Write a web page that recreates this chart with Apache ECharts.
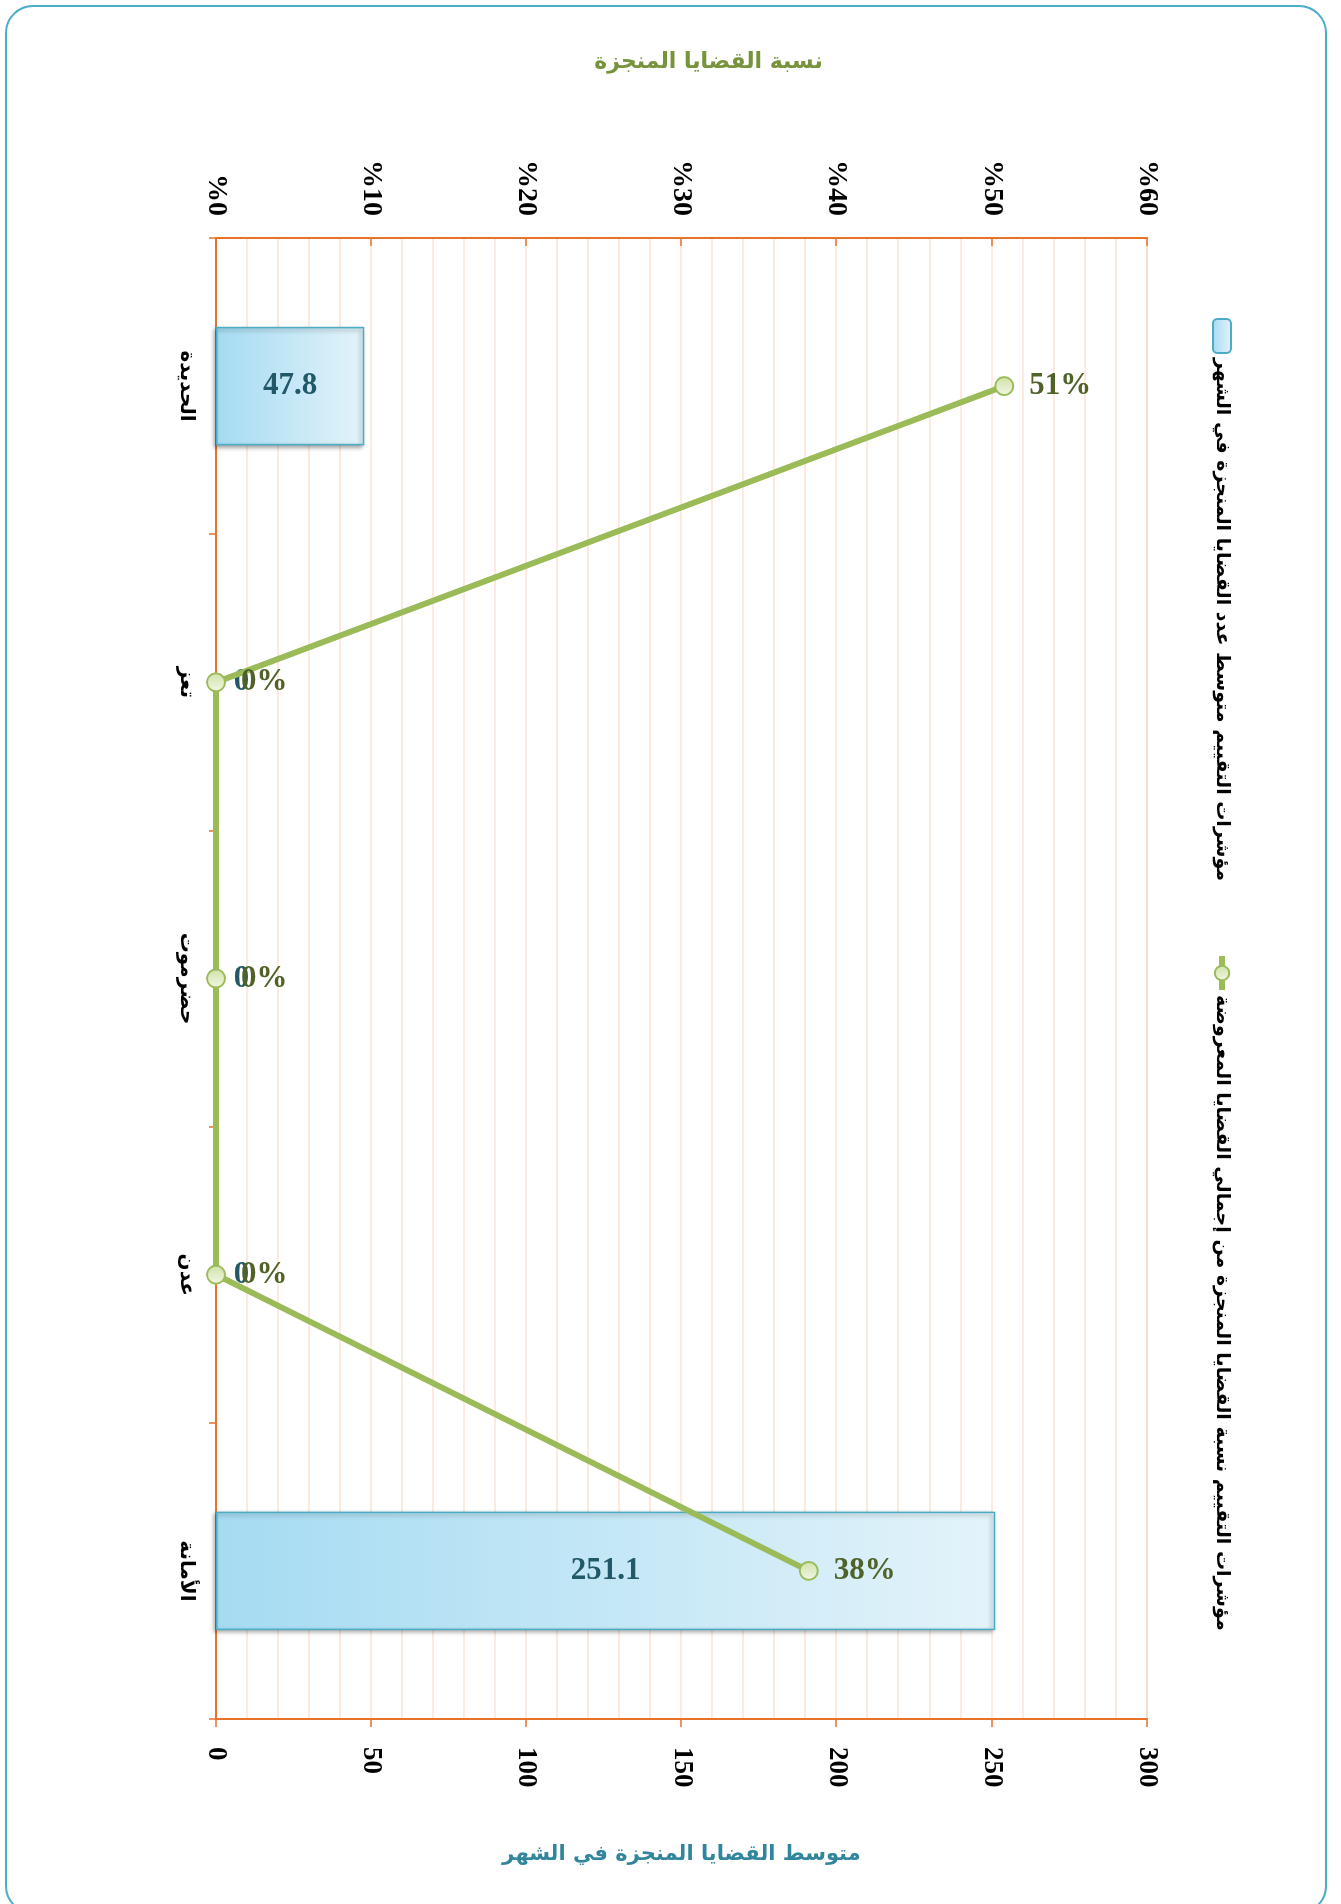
<!DOCTYPE html>
<html>
<head>
<meta charset="utf-8">
<script src="https://cdn.jsdelivr.net/npm/echarts@6/dist/echarts.min.js"></script>
<style>
  html, body { margin: 0; padding: 0; width: 1341px; height: 1904px; overflow: hidden; background: #ffffff; }
  #chart { position: absolute; left: 0; top: 0; width: 1904px; height: 1341px;
           transform-origin: 0 0; transform: translate(1341px, 0) rotate(90deg); }
  #frame { position: absolute; left: 5px; top: 5px; width: 1318px; height: 1905px;
           border: 2px solid #4bacc6; border-radius: 28px; pointer-events: none; }
</style>
</head>
<body>
<div id="chart"></div>
<div id="frame"></div>
<script>
// ---- data ----
const categories = ['الحديدة', 'تعز', 'حضرموت', 'عدن', 'الأمانة'];
const avgCompletedPerMonth = [47.8, 0, 0, 0, 251.1];
const completedRatePct = [50.8, 0, 0, 0, 38.2];
const barSeriesName = 'مؤشرات التقييم متوسط عدد القضايا المنجزة في الشهر';
const lineSeriesName = 'مؤشرات التقييم نسبة القضايا المنجزة من إجمالي القضايا المعروضة';
const rateAxisName = 'نسبة القضايا المنجزة';
const countAxisName = 'متوسط القضايا المنجزة في الشهر';
const rateAxisMin = 0, rateAxisMax = 60, rateAxisStep = 10;
const countAxisMin = 0, countAxisMax = 300, countAxisStep = 50;

const ORANGE = '#e8722a';
const SERIF = "'Liberation Serif', 'Times New Roman', serif";
const ARABIC = "'DejaVu Sans', 'Liberation Sans', sans-serif";

const chart = echarts.init(document.getElementById('chart'));

const barData = avgCompletedPerMonth.map(v => v === 0
  ? { value: v,
      itemStyle: { borderColor: 'transparent', shadowColor: 'transparent' },
      label: { position: 'top', distance: 17, align: 'left', verticalAlign: 'middle' } }
  : v);

const option = {
  backgroundColor: '#ffffff',
  animation: false,
  legend: {
    data: [
      { name: barSeriesName },
      { name: lineSeriesName, lineStyle: { width: 6 } }
    ],
    left: 313, top: 104,
    itemWidth: 34, itemHeight: 18, itemGap: 72,
    textStyle: { fontFamily: ARABIC, fontWeight: 'bold', fontSize: 19, color: '#000000' }
  },
  grid: {
    left: 238, right: 185, top: 194, bottom: 216,
    show: true, borderColor: '#8c8c8c', borderWidth: 1, backgroundColor: 'transparent'
  },
  xAxis: {
    type: 'category',
    data: categories,
    boundaryGap: true,
    axisLine: { show: true, lineStyle: { color: ORANGE, width: 2 } },
    axisTick: { show: true, length: 7, lineStyle: { color: ORANGE, width: 1.5 } },
    axisLabel: { fontFamily: ARABIC, fontWeight: 'bold', fontSize: 20, color: '#000000', margin: 20 }
  },
  yAxis: [
    {
      type: 'value', position: 'left',
      min: rateAxisMin, max: rateAxisMax, interval: rateAxisStep,
      name: rateAxisName, nameLocation: 'middle', nameRotate: 90, nameGap: 165,
      nameTextStyle: { fontFamily: ARABIC, fontWeight: 'bold', fontSize: 22, color: '#77933c', padding: [0, 0, 0, 54] },
      axisLine: { show: true, lineStyle: { color: ORANGE, width: 2 } },
      axisTick: { show: true, inside: true, length: 8, lineStyle: { color: ORANGE, width: 1.5 } },
      splitLine: { show: false },
      axisLabel: { formatter: v => '%' + v, fontFamily: SERIF, fontWeight: 'bold', fontSize: 28, color: '#000000', margin: 22 }
    },
    {
      type: 'value', position: 'right',
      min: countAxisMin, max: countAxisMax, interval: countAxisStep,
      name: countAxisName, nameLocation: 'middle', nameRotate: 90, nameGap: 125,
      nameTextStyle: { fontFamily: ARABIC, fontWeight: 'bold', fontSize: 21, color: '#31859c' },
      axisLine: { show: true, lineStyle: { color: ORANGE, width: 2 } },
      axisTick: { show: true, length: 8, lineStyle: { color: ORANGE, width: 1.5 } },
      splitLine: { show: true, lineStyle: { color: '#fce4d4', width: 1.5 } },
      minorTick: { show: false, splitNumber: 5 },
      minorSplitLine: { show: true, lineStyle: { color: '#fce4d4', width: 1.5 } },
      axisLabel: { fontFamily: SERIF, fontWeight: 'bold', fontSize: 27, color: '#000000', margin: 28 }
    }
  ],
  series: [
    {
      name: barSeriesName,
      type: 'bar',
      yAxisIndex: 1,
      barWidth: '40%',
      data: barData,
      itemStyle: {
        color: new echarts.graphic.LinearGradient(0, 0, 0, 1, [
          { offset: 0, color: '#e3f3fa' },
          { offset: 1, color: '#a5dbf2' }
        ]),
        borderColor: '#4bacc6', borderWidth: 1.5,
        shadowColor: 'rgba(0,0,0,0.35)', shadowBlur: 4, shadowOffsetX: 2, shadowOffsetY: 2
      },
      label: {
        show: true, position: 'inside', rotate: 90,
        fontFamily: SERIF, fontWeight: 'bold', fontSize: 31, color: '#215968'
      },
      z: 2
    },
    {
      name: lineSeriesName,
      type: 'line',
      yAxisIndex: 0,
      data: completedRatePct,
      symbol: 'circle', symbolSize: 18,
      lineStyle: { color: '#9bbb59', width: 6 },
      itemStyle: {
        color: new echarts.graphic.LinearGradient(1, 0, 0, 0, [
          { offset: 0, color: '#f2f7e6' },
          { offset: 1, color: '#cfe2a6' }
        ]),
        borderColor: '#9bbb59', borderWidth: 2
      },
      label: {
        show: true, position: 'top', rotate: 90, align: 'left', verticalAlign: 'middle', distance: 15,
        formatter: p => Math.round(p.value) + '%',
        fontFamily: SERIF, fontWeight: 'bold', fontSize: 31, color: '#4f6228'
      },
      z: 3
    }
  ]
};
chart.setOption(option);
</script>
</body>
</html>
